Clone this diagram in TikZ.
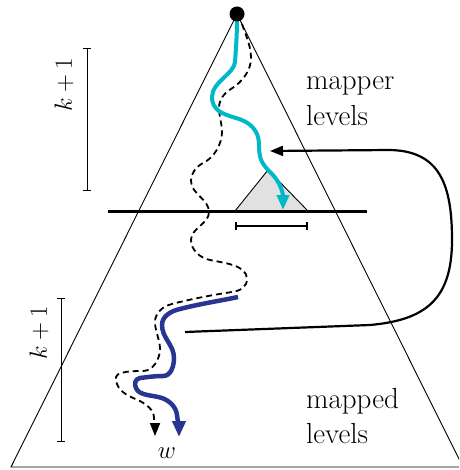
\documentclass[tikz,border=0pt]{standalone}
\usetikzlibrary{arrows.meta}
\definecolor{cyanpath}{RGB}{0,184,200}
\definecolor{bluepath}{RGB}{40,53,147}
\definecolor{lightgray}{RGB}{225,225,225}
\begin{document}
\begin{tikzpicture}[x=1pt,y=-1pt,
  thin line/.style={line width=0.9pt},
  lbl/.style={inner sep=0pt,font=\fontsize{29}{36}\selectfont},
  klbl/.style={inner sep=0pt,rotate=90,font=\fontsize{25}{30}\selectfont},
  bar/.style={line width=0.9pt,{Bar[width=8pt]}-{Bar[width=8pt]}},
  dashpath/.style={line width=1.8pt,dash pattern=on 6pt off 4pt,-{Triangle[length=13pt,width=10pt]}},
  cyanp/.style={cyanpath,line width=4pt,-{Triangle[length=15pt,width=12pt]}},
  bluep/.style={bluepath,line width=4.5pt,-{Triangle[length=16pt,width=13pt]}},
  maparrow/.style={line width=2.2pt,-{Triangle[length=13pt,width=10pt]}}
]
\useasboundingbox (0,0) rectangle (459,470);
\coordinate (apex) at (237,14);
\coordinate (bl) at (11,467);
\coordinate (br) at (463,467);
\begin{scope}
\clip (0,0) rectangle (459,470);
\draw[thin line] (bl) -- (apex) -- (br) -- cycle;
\end{scope}
% small gray triangle
\coordinate (sa) at (268,170);
\coordinate (sl) at (235,211);
\coordinate (sr) at (308,211);
\filldraw[fill=lightgray,thin line] (sl) -- (sa) -- (sr) -- cycle;
% thick horizontal line
\coordinate (hl) at (108,211);
\coordinate (hr) at (367,211);
\draw[line width=3pt] (hl) -- (hr);
% scale bar
\coordinate (s1) at (235,226);
\coordinate (s2) at (308,226);
\draw[bar,line width=1.8pt] (s1) -- (s2);
% level bars
\coordinate (b1t) at (87,48);
\coordinate (b1b) at (87,191);
\draw[bar] (b1t) -- (b1b);
\coordinate (b2t) at (61,298);
\coordinate (b2b) at (61,442);
\draw[bar] (b2t) -- (b2b);
\node[klbl] (k1) at (64,85) {$k+1$};
\node[klbl] (k2) at (39,333) {$k+1$};
% dashed path
\coordinate (d0) at (242,24);
\coordinate (dend) at (155,436);
\draw[dashpath] (d0)
 .. controls (246,36) and (251,46) .. (251,58)
 .. controls (251,71) and (242,82) .. (231,89)
 .. controls (224,93) and (219,100) .. (219,108)
 .. controls (219,116) and (222,124) .. (222,132)
 .. controls (222,144) and (214,158) .. (203,163)
 .. controls (196,167) and (191,173) .. (191,181)
 .. controls (191,194) and (209,199) .. (209,212)
 .. controls (209,224) and (191,228) .. (191,240)
 .. controls (191,250) and (200,258) .. (210,260)
 .. controls (224,263) and (247,265) .. (247,279)
 .. controls (247,287) and (240,291) .. (232,292)
 .. controls (212,295) and (191,299) .. (172,304)
 .. controls (163,306) and (155,313) .. (155,322)
 .. controls (155,331) and (160,340) .. (160,349)
 .. controls (160,359) and (153,371) .. (143,371)
 .. controls (136,371) and (128,371) .. (121,373)
 .. controls (115,375) and (115,378) .. (117,384)
 .. controls (120,393) and (131,397) .. (140,401)
 .. controls (147,405) and (154,410) .. (154,418)
 .. controls (154,424) and (155,430) .. (dend);
% cyan path
\coordinate (c0) at (237,20);
\coordinate (cend) at (283,210);
\draw[cyanp] (c0)
 .. controls (237,34) and (236,48) .. (235,62)
 .. controls (234,74) and (212,82) .. (212,97)
 .. controls (212,110) and (222,114) .. (236,118)
 .. controls (250,122) and (259,130) .. (259,145)
 .. controls (259,160) and (262,164) .. (272,174)
 .. controls (280,182) and (283,193) .. (cend);
% blue path
\coordinate (u0) at (238,297);
\coordinate (uend) at (179,437);
\draw[bluep] (u0)
 .. controls (219,301) and (199,304) .. (180,309)
 .. controls (171,311) and (162,316) .. (162,325)
 .. controls (162,338) and (174,345) .. (174,358)
 .. controls (174,366) and (171,376) .. (163,376)
 .. controls (155,376) and (148,377) .. (140,378)
 .. controls (135,379) and (134,384) .. (136,388)
 .. controls (139,396) and (153,395) .. (162,398)
 .. controls (170,401) and (176,407) .. (177,415)
 .. controls (178,422) and (179,430) .. (uend);
% apex dot
\fill (apex) circle (7.5pt);
% mapping arrow
\coordinate (src) at (185,332);
\coordinate (dst) at (270,151);
\draw[maparrow] (src) -- (370,325) .. controls (425,320) and (452,300) .. (452,240)
  .. controls (452,185) and (440,151) .. (390,150) -- (dst);
% labels
\node[lbl,anchor=base west] (t1) at (306,90) {mapper};
\node[lbl,anchor=base west] (t2) at (306,126) {levels};
\node[lbl,anchor=base west] (t3) at (306,408) {mapped};
\node[lbl,anchor=base west] (t4) at (306,443) {levels};
\node[lbl,anchor=base] (w) at (167,458) {$w$};
\end{tikzpicture}
\end{document}
